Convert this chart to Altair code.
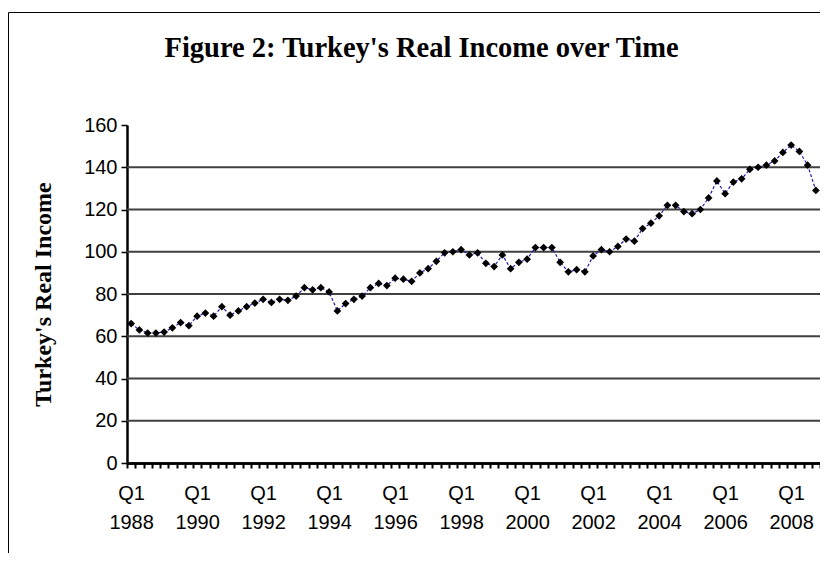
import altair as alt
import pandas as pd

# Quarterly data, Q1 1988 .. Q4 2008
start_year = 1988
income = [66, 63, 61.5, 61.5, 62, 64, 66.5, 65, 69.5, 71, 69.5, 74, 70, 72,
          74, 75.7, 77.5, 76, 77.5, 77, 79, 83, 82, 83, 81, 72, 75.5, 77.5,
          79, 83, 85, 84, 87.5, 87, 86, 90, 92, 95.5, 99.5, 100, 101, 98.5,
          99.5, 94.5, 93, 98.5, 92, 95, 96.5, 102, 102, 102, 95, 90.5, 91.5, 90.5,
          98, 101, 100, 102.5, 106, 105, 111, 113.5, 117, 122, 122, 119, 118, 120,
          125.5, 133.5, 127.5, 133, 134.5, 139, 140, 141, 143, 147, 150.5, 147.5, 141, 129]
label_years = [1988, 1990, 1992, 1994, 1996, 1998, 2000, 2002, 2004, 2006, 2008]
y_ticks = [0, 20, 40, 60, 80, 100, 120, 140, 160]
grid_levels = [20, 40, 60, 80, 100, 120, 140]

n = len(income)
df = pd.DataFrame({
    "idx": list(range(n)),
    "income": income,
    "quarter": [f"Q{i % 4 + 1} {start_year + i // 4}" for i in range(n)],
})
grid_df = pd.DataFrame({"level": grid_levels})

label_positions = [(y - start_year) * 4 for y in label_years]
tick_positions = [i - 0.5 for i in range(n + 1)]

x_scale = alt.Scale(domain=[-0.5, n - 0.5], nice=False, zero=False)
y_scale = alt.Scale(domain=[0, 160], nice=False)
y_axis = alt.Axis(values=y_ticks, title="Turkey's Real Income", grid=False,
                  labelFont="Liberation Sans", labelFontSize=20, labelColor="black",
                  labelPadding=4, tickSize=6, tickColor="black", tickWidth=1.5,
                  domain=True, domainColor="black", domainWidth=2.5,
                  titleFont="Liberation Serif", titleFontSize=24, titleFontWeight="bold",
                  titleColor="black", titlePadding=28)

# chart-area frame edges (top and left are visible in the source figure)
one = pd.DataFrame({"f": [0]})
frame_top = alt.Chart(one).mark_rule(color="black", strokeWidth=1).encode(
    x=alt.value(-118.5), x2=alt.value(693), y=alt.value(-112.5))
frame_left = alt.Chart(one).mark_rule(color="black", strokeWidth=1).encode(
    x=alt.value(-118.5), y=alt.value(-112.5), y2=alt.value(428))

grid = alt.Chart(grid_df).mark_rule(color="#404040", strokeWidth=1.8).encode(
    y=alt.Y("level:Q", scale=y_scale, axis=y_axis)
)

line = alt.Chart(df).mark_line(color="#2020b0", strokeWidth=1.2, strokeDash=[3, 2]).encode(
    x=alt.X("idx:Q", scale=x_scale, axis=alt.Axis(
        orient="bottom", values=label_positions, title=None, grid=False, ticks=False,
        labelExpr=f"['Q1', '' + ({start_year} + datum.value / 4)]",
        labelFont="Liberation Sans", labelFontSize=20, labelColor="black",
        labelPadding=20, labelLineHeight=29, labelBaseline="top",
        domainColor="black", domainWidth=2.5)),
    y=alt.Y("income:Q", scale=y_scale, axis=y_axis),
)

points = alt.Chart(df).mark_point(shape="diamond", filled=True, color="black",
                                  size=60, opacity=1).encode(
    x=alt.X("idx:Q", scale=x_scale, axis=alt.Axis(
        orient="bottom", values=tick_positions, title=None, grid=False, labels=False,
        tickSize=5, tickColor="black", tickWidth=2,
        domainColor="black", domainWidth=2.5)),
    y=alt.Y("income:Q", scale=y_scale, axis=y_axis),
    tooltip=["quarter:N", "income:Q"],
)

chart = alt.layer(frame_top, frame_left, grid, line, points).resolve_axis(
    x="independent"
).properties(
    width=693, height=338,
    title=alt.TitleParams(text="Figure 2: Turkey's Real Income over Time",
                          font="Liberation Serif", fontSize=28.5, fontWeight="bold",
                          color="black", anchor="middle", dx=-52, offset=-50),
    autosize=alt.AutoSizeParams(type="none"),
    padding={"left": 119, "top": 117, "right": 0, "bottom": 90},
).configure(background="white").configure_view(strokeWidth=0, stroke="transparent")

chart.save("out.html", embed_options={"renderer": "svg", "actions": False})
